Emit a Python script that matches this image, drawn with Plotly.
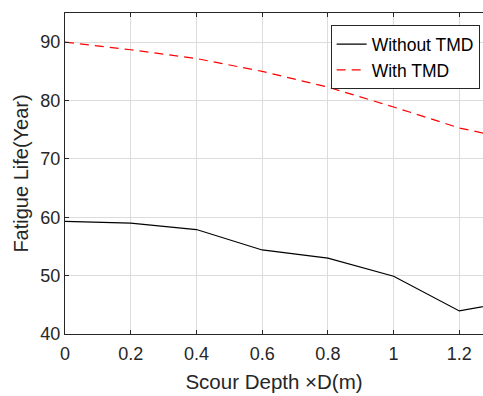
import plotly.graph_objects as go

x = [0, 0.2, 0.4, 0.6, 0.8, 1.0, 1.2, 1.3]
without_tmd = [59.3, 59.0, 57.9, 54.4, 53.0, 49.9, 43.95, 45.0]
with_tmd = [90.0, 88.7, 87.2, 85.0, 82.3, 78.9, 75.3, 74.1]

fig = go.Figure()
fig.add_trace(go.Scatter(x=x, y=without_tmd, mode="lines", name="Without TMD",
                         line=dict(color="black", width=1.2)))
fig.add_trace(go.Scatter(x=x, y=with_tmd, mode="lines", name="With TMD",
                         line=dict(color="red", width=1.2, dash="9px,6px")))

font = "Liberation Sans, Arial, sans-serif"
fig.update_layout(
    width=483, height=396,
    margin=dict(l=65, r=0, t=13, b=62),
    paper_bgcolor="white", plot_bgcolor="white",
    font=dict(family=font, size=18, color="#262626"),
    showlegend=True,
    legend=dict(x=0.992, y=0.962, xanchor="right", yanchor="top",
                bordercolor="#262626", borderwidth=1, bgcolor="white",
                font=dict(size=17.5, color="#000000"), tracegroupgap=0,
                itemwidth=30),
    xaxis=dict(range=[0, 1.272], tickvals=[0, 0.2, 0.4, 0.6, 0.8, 1, 1.2],
               ticktext=["0", "0.2", "0.4", "0.6", "0.8", "1", "1.2"],
               showgrid=True, gridcolor="#dcdcdc", gridwidth=1,
               showline=True, linecolor="#262626", linewidth=1, mirror="ticks",
               ticks="inside", ticklen=4, tickcolor="#262626", zeroline=False,
               ticklabelstandoff=3,
               title=dict(text="Scour Depth ×D(m)", font=dict(size=20.5), standoff=12),
               tickfont=dict(size=18)),
    yaxis=dict(range=[40, 95], tickvals=[40, 50, 60, 70, 80, 90],
               showgrid=True, gridcolor="#dcdcdc", gridwidth=1,
               showline=True, linecolor="#262626", linewidth=1, mirror=False,
               ticks="inside", ticklen=4, tickcolor="#262626", zeroline=False,
               title=dict(text="Fatigue Life(Year)", font=dict(size=20), standoff=6),
               tickfont=dict(size=18)),
)
fig.write_html("out.html")
